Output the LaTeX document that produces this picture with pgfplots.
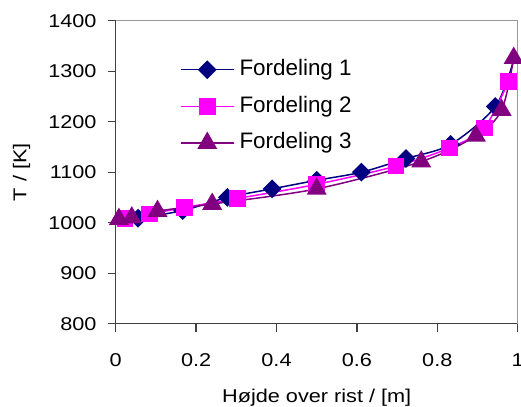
\documentclass[border=0pt]{standalone}
\usepackage{fontspec}
\setmainfont{Liberation Sans}[FakeStretch=1.17]
\newfontfamily\legfont{Liberation Sans}
\usepackage{pgfplots}
\pgfplotsset{compat=1.18}
\definecolor{fone}{RGB}{0,0,128}
\definecolor{ftwo}{RGB}{255,0,255}
\definecolor{fthree}{RGB}{128,0,128}
\begin{document}
\begin{tikzpicture}
\begin{axis}[
  scale only axis, width=402bp, height=303bp,
  xmin=0, xmax=1, ymin=800, ymax=1400,
  xtick={0,0.2,0.4,0.6,0.8,1},
  ytick={800,900,1000,1100,1200,1300,1400},
  axis lines*=left,
  axis line style={-, black!75, line width=1.3bp},
  tick style={black!75, line width=1.2bp},
  tick align=outside, major tick length=8bp,
  /pgf/number format/assume math mode=true,
  /pgf/number format/set thousands separator={},
  ticklabel style={font=\fontsize{18.6}{22}\selectfont, inner sep=0pt},
  yticklabel style={xshift=-11bp},
  xticklabel style={yshift=-22bp},
  xlabel={Højde over rist / [m]},
  ylabel={T / [K]},
  label style={font=\fontsize{18.6}{22}\selectfont, inner sep=0pt},
  xlabel style={at={(axis description cs:0.5,0)}, anchor=north, yshift=-65bp},
  ylabel style={at={(axis description cs:0,0.5)}, anchor=center, yshift=94bp},
  clip=false,
  legend cell align=left,
  legend image code/.code={\draw[mark repeat=2,mark phase=2,#1,mark indices={2}] plot coordinates {(0bp,0bp) (26.5bp,0bp) (53bp,0bp)};},
  legend style={draw=none, fill=none, inner sep=0pt, outer sep=0pt,
    at={(axis cs:0.16,1324)}, anchor=north west,
    font=\legfont\fontsize{22.5}{26}\selectfont,
    nodes={inner sep=0pt, text height=16.5bp, text depth=4.7bp},
    row sep=15.5bp,
    /tikz/every odd column/.append style={column sep=5bp}},
]
\addplot[color=fone, line width=1.5bp, smooth, mark=square*, mark size=5.9bp,
  mark options={rotate=45, solid, fill=fone}, mark indices={1,2,3,4,5,6,7,8,9}]
  coordinates {(0.0556,1009) (0.1667,1024) (0.2778,1050) (0.3889,1067) (0.5,1084)
   (0.6111,1100) (0.7222,1127) (0.8333,1155) (0.9444,1230) (0.99,1322)};
\addlegendentry{Fordeling 1}
\addplot[color=ftwo, line width=1.5bp, smooth, mark=square*, mark size=7.5bp,
  mark options={solid, fill=ftwo}]
  coordinates {(0.023,1008) (0.084,1017) (0.171,1030) (0.303,1048) (0.5,1076)
   (0.697,1112) (0.830,1148) (0.917,1188) (0.977,1280)};
\addlegendentry{Fordeling 2}
\addplot[color=fthree, line width=1.5bp, smooth, mark=triangle*, mark size=10bp,
  mark options={solid, fill=fthree}]
  coordinates {(0.008,1007) (0.04,1010) (0.104,1023) (0.24,1037) (0.5,1067)
   (0.76,1121) (0.896,1172) (0.96,1223) (0.99,1326)};
\addlegendentry{Fordeling 3}
\draw[black!40, line width=1.3bp] (rel axis cs:0,1) -- (rel axis cs:1,1) -- (rel axis cs:1,0);
\end{axis}
\pgfresetboundingbox
\path (-115.7bp,-83.3bp) rectangle (405.3bp,323.7bp);
\end{tikzpicture}
\end{document}
